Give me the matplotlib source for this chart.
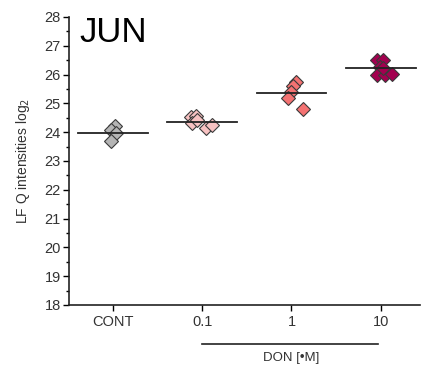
import numpy as np
import matplotlib.pyplot as plt
import matplotlib.transforms as mtransforms

plt.rcParams['font.family'] = ['Liberation Sans', 'DejaVu Sans']

groups = ['CONT', '0.1', '1', '10']
colors = ['#b4b4b4', '#f8c2c2', '#f47272', '#a3004f']

cont = [24.22, 24.08, 23.97, 23.68]
don_01 = [24.54, 24.56, 24.31, 24.42, 24.14, 24.25]
don_1 = [25.75, 25.62, 25.41, 25.18, 24.80]
don_10 = [26.51, 26.51, 26.27, 25.99, 25.99, 26.02, 26.23]
values = [cont, don_01, don_1, don_10]

# small horizontal spread of the points inside each group
jitter = [
    [0.02, -0.015, 0.035, -0.025],
    [-0.127, -0.07, -0.108, -0.053, 0.041, 0.109],
    [0.053, 0.015, -0.003, -0.041, 0.127],
    [-0.048, 0.026, -0.011, -0.048, 0.045, 0.12, 0.022],
]

fig = plt.figure(figsize=(4.22, 3.70), dpi=100)
ax = fig.add_axes([0.1635, 0.1757, 0.832, 0.7784])

for i, (vals, jit, c) in enumerate(zip(values, jitter, colors)):
    x = i + np.array(jit)
    ax.plot(x, vals, linestyle='none', marker='D', ms=7.2, mfc=c,
            mec='#3a3a3a', mew=0.8, zorder=3)
    m = np.mean(vals)
    ax.plot([i - 0.39, i + 0.39], [m, m], color='#222222', lw=1.3, zorder=4)

ax.set_xlim(-0.49, 3.44)
ax.set_ylim(18, 28)
ax.set_xticks(range(len(groups)))
ax.set_xticklabels(groups, fontsize=10.5, color='#333333')
ax.set_yticks(range(18, 29))
ax.set_yticks(np.arange(18.5, 28, 1), minor=True)
ax.tick_params(axis='y', labelsize=10.5, labelcolor='#333333', length=4,
               width=1, direction='out', pad=2)
ax.tick_params(axis='y', which='minor', length=2.5, width=1)
ax.tick_params(axis='x', length=4, width=1, direction='out', pad=3)
ax.spines['top'].set_visible(False)
ax.spines['right'].set_visible(False)
for s in ['left', 'bottom']:
    ax.spines[s].set_linewidth(1.2)
    ax.spines[s].set_color('#222222')

ax.set_ylabel('LF Q intensities log$_2$', fontsize=10, color='#333333',
              labelpad=9)

ax.text(0.031, 1.005, 'JUN', transform=ax.transAxes, fontsize=25,
        va='top', ha='left')

trans = mtransforms.blended_transform_factory(ax.transData, ax.transAxes)
ax.plot([1, 2.97], [-0.135, -0.135], color='#222222', lw=1.2,
        transform=trans, clip_on=False)
ax.text(2, -0.185, 'DON [\u2022M]', transform=trans, ha='center', va='center',
        fontsize=9.5, color='#333333')

fig.savefig('out.png', dpi=100)
